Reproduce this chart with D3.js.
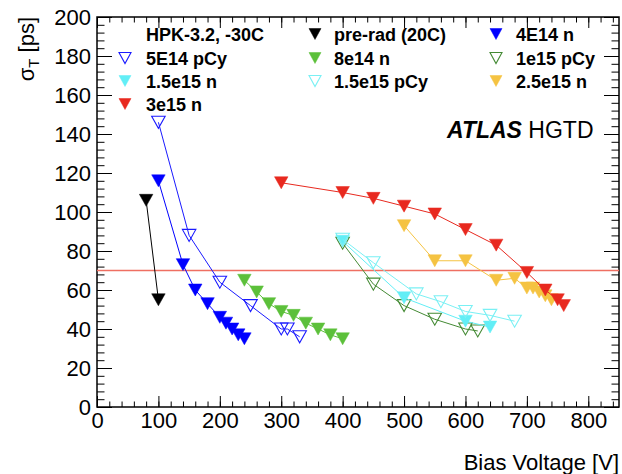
<!DOCTYPE html>
<html><head><meta charset="utf-8">
<script src="https://cdn.jsdelivr.net/npm/d3@7"></script>
<style>
body{margin:0;background:#fff;}
svg{display:block;font-family:"Liberation Sans",Arial,Helvetica,sans-serif;}
</style></head><body>
<svg id="chart" width="622" height="474"></svg>
<script>
// values: bias voltage [V] and time resolution [ps]
const preradV = [80, 100];
const preradS = [106, 55];
const n4e14V = [100, 140, 160, 180, 200, 210, 220, 230, 240];
const n4e14S = [116, 73, 60, 53, 46, 43, 40, 37, 35];
const p5e14V = [100, 150, 200, 250, 300, 310, 330];
const p5e14S = [146, 88, 64, 52, 40, 40, 36];
const n8e14V = [240, 260, 280, 300, 320, 340, 360, 380, 400];
const n8e14S = [65, 59, 53, 49, 47, 43, 40, 37, 35];
const p1e15V = [400, 450, 500, 550, 600, 620];
const p1e15S = [84, 63, 52, 45, 40, 39];
const n15e15V = [400, 500, 600, 640];
const n15e15S = [85, 56, 44, 41];
const p15e15V = [400, 450, 520, 560, 600, 640, 680];
const p15e15S = [86, 74, 58, 54, 49, 47, 44];
const n25e15V = [500, 550, 600, 650, 680, 700, 710, 720, 730, 740];
const n25e15S = [93, 75, 75, 65, 66, 61, 61, 59, 57, 55];
const n3e15V = [300, 400, 450, 500, 550, 600, 650, 700, 730, 750, 760];
const n3e15S = [115, 110, 107, 103, 99, 91, 83, 69, 60, 55, 52];
const targetRes = 70;

const xTicks = d3.range(0, 801, 100);
const yTicks = d3.range(0, 201, 20);

const series = [
	{label: "pre-rad (20C)", v: preradV, s: preradS, color: "#000000", open: false},
	{label: "4E14 n", v: n4e14V, s: n4e14S, color: "#0000ff", open: false},
	{label: "5E14 pCy", v: p5e14V, s: p5e14S, color: "#1a1aff", open: true},
	{label: "8e14 n", v: n8e14V, s: n8e14S, color: "#5cc03a", open: false},
	{label: "1e15 pCy", v: p1e15V, s: p1e15S, color: "#448a34", open: true},
	{label: "1.5e15 n", v: n15e15V, s: n15e15S, color: "#62eef6", open: false},
	{label: "1.5e15 pCy", v: p15e15V, s: p15e15S, color: "#7af0f4", open: true},
	{label: "2.5e15 n", v: n25e15V, s: n25e15S, color: "#f5c342", open: false},
	{label: "3e15 n", v: n3e15V, s: n3e15S, color: "#e8291f", open: false}
];

const svg = d3.select("#chart");
const plotL = 97, plotR = 619, plotT = 17, plotB = 407;

const xScale = d3.scaleLinear().domain([0, 850]).range([plotL, plotR]);
const yScale = d3.scaleLinear().domain([0, 200]).range([plotB, plotT]);

// down-pointing triangle, centred on the point
function tri(w, h) {
	return `M${-w/2},${-h/2}L${w/2},${-h/2}L0,${h/2}Z`;
}

/*axes*/
function ticksOnly(g) { g.select(".domain").remove(); }

svg.append("g").attr("transform", `translate(0,${plotB})`)
	.call(d3.axisBottom(xScale).tickValues(d3.range(0, 851, 20)).tickSize(-5.5).tickFormat(""))
	.call(ticksOnly);
svg.append("g").attr("transform", `translate(0,${plotB})`)
	.call(d3.axisBottom(xScale).tickValues(xTicks).tickSize(-11).tickPadding(5))
	.call(ticksOnly);
svg.append("g").attr("transform", `translate(0,${plotT})`)
	.call(d3.axisTop(xScale).tickValues(d3.range(0, 851, 20)).tickSize(-5.5).tickFormat(""))
	.call(ticksOnly);
svg.append("g").attr("transform", `translate(0,${plotT})`)
	.call(d3.axisTop(xScale).tickValues(xTicks).tickSize(-11).tickFormat(""))
	.call(ticksOnly);

svg.append("g").attr("transform", `translate(${plotL},0)`)
	.call(d3.axisLeft(yScale).tickValues(d3.range(0, 201, 4)).tickSize(-7.5).tickFormat(""))
	.call(ticksOnly);
svg.append("g").attr("transform", `translate(${plotL},0)`)
	.call(d3.axisLeft(yScale).tickValues(yTicks).tickSize(-15).tickPadding(6))
	.call(ticksOnly);
svg.append("g").attr("transform", `translate(${plotR},0)`)
	.call(d3.axisRight(yScale).tickValues(d3.range(0, 201, 4)).tickSize(-7.5).tickFormat(""))
	.call(ticksOnly);
svg.append("g").attr("transform", `translate(${plotR},0)`)
	.call(d3.axisRight(yScale).tickValues(yTicks).tickSize(-15).tickFormat(""))
	.call(ticksOnly);

svg.selectAll(".tick line").attr("stroke", "#000").attr("stroke-width", 1);
svg.selectAll(".tick text").attr("font-size", 22).attr("fill", "#000")
	.attr("font-family", "'Liberation Sans', Arial, sans-serif");

svg.append("rect")
	.attr("x", plotL).attr("y", plotT)
	.attr("width", plotR - plotL).attr("height", plotB - plotT)
	.attr("fill", "none").attr("stroke", "#000").attr("stroke-width", 1.5);

/*axis titles*/
svg.append("text")
	.attr("x", plotR).attr("y", 470)
	.attr("text-anchor", "end").attr("font-size", 22)
	.text("Bias Voltage [V]");

const yTitle = svg.append("text")
	.attr("transform", "translate(34,17) rotate(-90)")
	.attr("text-anchor", "end").attr("font-size", 22);
yTitle.append("tspan").text("σ");
yTitle.append("tspan").attr("dy", 5).attr("font-size", 15).text("T");
yTitle.append("tspan").attr("dy", -5).text(" [ps]");

/*70 ps reference line*/
svg.append("line")
	.attr("x1", xScale(0)).attr("x2", xScale(850))
	.attr("y1", yScale(targetRes)).attr("y2", yScale(targetRes))
	.attr("stroke", "#ef6f62").attr("stroke-width", 1.3);

/*series*/
const lineGen = d3.line().x(d => xScale(d[0])).y(d => yScale(d[1]));

series.forEach(function(sr) {
	const pts = sr.v.map((v, i) => [v, sr.s[i]]);
	const g = svg.append("g");
	g.append("path")
		.attr("d", lineGen(pts))
		.attr("fill", "none")
		.attr("stroke", sr.color)
		.attr("stroke-width", 1);
	g.selectAll("path.mk").data(pts).enter().append("path")
		.attr("class", "mk")
		.attr("transform", d => `translate(${xScale(d[0])},${yScale(d[1])})`)
		.attr("d", tri(13.5, 12))
		.attr("fill", sr.open ? "none" : sr.color)
		.attr("stroke", sr.color)
		.attr("stroke-width", sr.open ? 1.1 : 0.5);
});

/*legend*/
const legendEntries = [{label: "HPK-3.2, -30C", header: true}].concat(series);
const colMarkX = [125, 315, 496];
const colTextX = [146, 334, 516];
const rowY = [34, 58, 81, 104];

const legend = svg.append("g").attr("font-weight", "bold").attr("font-size", 18);
legendEntries.forEach(function(e, i) {
	const col = i % 3, row = Math.floor(i / 3);
	if (!e.header) {
		legend.append("path")
			.attr("transform", `translate(${colMarkX[col]},${rowY[row]})`)
			.attr("d", tri(12, 11))
			.attr("fill", e.open ? "none" : e.color)
			.attr("stroke", e.color)
			.attr("stroke-width", e.open ? 1.1 : 0.5);
	}
	legend.append("text")
		.attr("x", colTextX[col]).attr("y", rowY[row] + 6.5)
		.text(e.label);
});

/*ATLAS label*/
const atlas = svg.append("text").attr("x", 447).attr("y", 138).attr("font-size", 23);
atlas.append("tspan").attr("font-weight", "bold").attr("font-style", "italic").text("ATLAS");
atlas.append("tspan").text(" HGTD");
</script>
</body></html>
